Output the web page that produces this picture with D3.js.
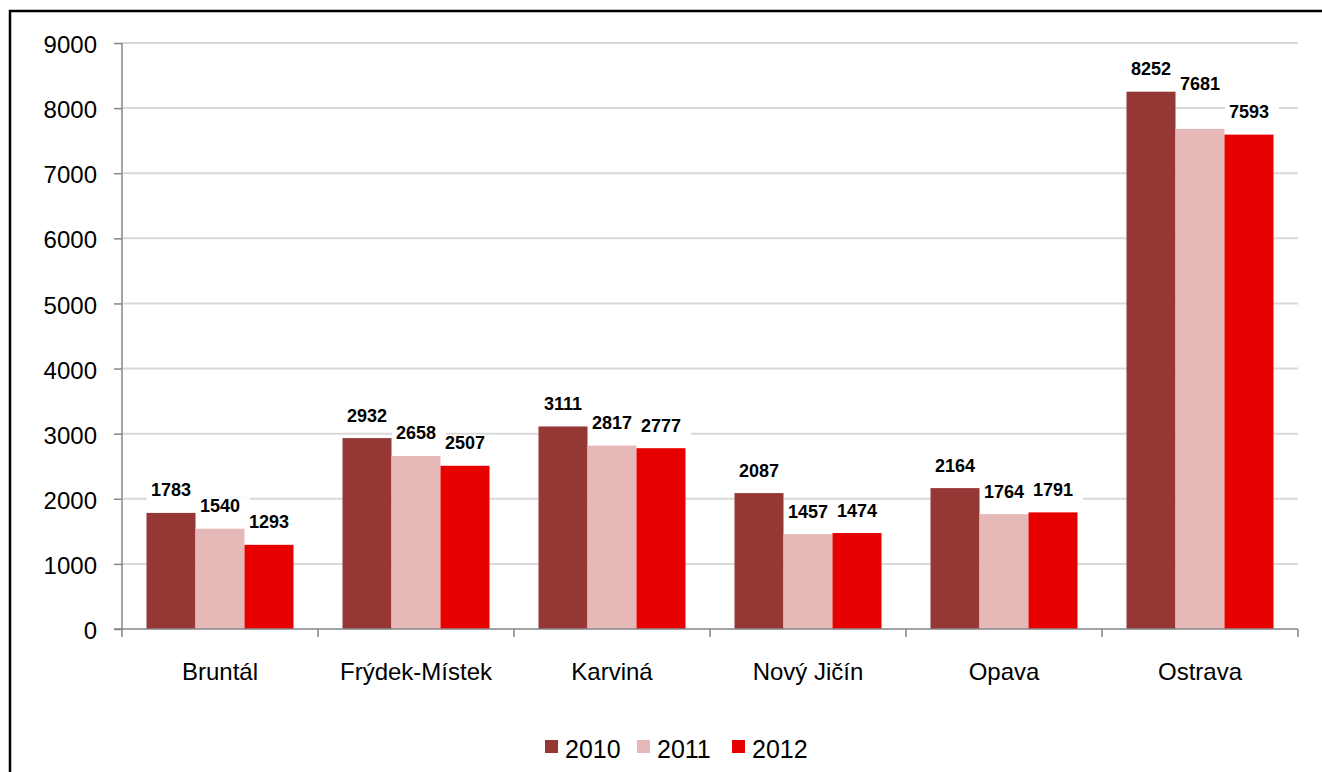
<!DOCTYPE html>
<html><head><meta charset="utf-8">
<script src="https://cdn.jsdelivr.net/npm/d3@7"></script>
<style>html,body{margin:0;padding:0;background:#fff;}svg{display:block;}</style>
</head><body>
<script>
const categories = ["Bruntál","Frýdek-Místek","Karviná","Nový Jičín","Opava","Ostrava"];
const seriesNames = ["2010","2011","2012"];
const values2010 = [1783,2932,3111,2087,2164,8252];
const values2011 = [1540,2658,2817,1457,1764,7681];
const values2012 = [1293,2507,2777,1474,1791,7593];
const yTicks = [0,1000,2000,3000,4000,5000,6000,7000,8000,9000];
const colors = ["#953735","#e6b9b8","#e60000"];
const seriesValues = [values2010, values2011, values2012];
// label placement tweak (Excel moved one label up)
const labelLift = {"Ostrava|2011": 22};

const W = 1322, H = 772;
const svg = d3.select("body").append("svg").attr("width", W).attr("height", H);
svg.append("rect").attr("width", W).attr("height", H).attr("fill", "#fff");
// outer frame
svg.append("rect").attr("x", 10).attr("y", 11).attr("width", W + 20).attr("height", H + 20)
  .attr("fill", "none").attr("stroke", "#000").attr("stroke-width", 2.5);

const pLeft = 122, pRight = 1298, pTop = 43, pBottom = 629;
const x0 = d3.scaleBand().domain(categories).range([pLeft, pRight]).paddingInner(0).paddingOuter(0);
const x1 = d3.scaleBand().domain(seriesNames).range([0, x0.bandwidth()]).paddingInner(0).paddingOuter(0.5);
const y = d3.scaleLinear().domain([0, 9000]).range([pBottom, pTop]);

const font = "'Liberation Sans', Arial, sans-serif";

// gridlines
svg.append("g").selectAll("line").data(yTicks.filter(d => d > 0)).join("line")
  .attr("x1", pLeft).attr("x2", pRight).attr("y1", d => y(d)).attr("y2", d => y(d))
  .attr("stroke", "#d9d9d9").attr("stroke-width", 2);

// bars
const groups = svg.append("g").selectAll("g").data(seriesNames).join("g")
  .attr("fill", (d, i) => colors[i]);
groups.selectAll("rect").data((s, si) => categories.map((c, ci) => ({c, s, v: seriesValues[si][ci]}))).join("rect")
  .attr("x", d => x0(d.c) + x1(d.s)).attr("width", x1.bandwidth())
  .attr("y", d => y(d.v)).attr("height", d => y(0) - y(d.v));

// axes
const yAxis = svg.append("g").attr("transform", `translate(${pLeft},0)`)
  .call(d3.axisLeft(y).tickValues(yTicks).tickSize(8).tickPadding(17).tickFormat(d3.format("d")));
yAxis.select(".domain").attr("stroke", "#868686").attr("stroke-width", 1.5).attr("d", `M0,${pTop}V${pBottom}`);
yAxis.selectAll(".tick line").attr("stroke", "#868686").attr("stroke-width", 1.5);
yAxis.selectAll(".tick text").attr("font-family", font).attr("font-size", 24).attr("fill", "#000").attr("dy", "0.4em");

const xAxis = svg.append("g").attr("transform", `translate(0,${pBottom})`)
  .call(d3.axisBottom(x0).tickSize(0).tickPadding(34));
xAxis.select(".domain").attr("stroke", "#868686").attr("stroke-width", 1.5).attr("d", `M${pLeft - 8},0H${pRight}`);
xAxis.selectAll(".tick text").attr("font-family", font).attr("font-size", 24).attr("fill", "#000").attr("dy", "0.71em");
const boundaries = categories.map(c => x0(c)).concat([pRight]);
xAxis.append("g").selectAll("line").data(boundaries).join("line")
  .attr("x1", d => d).attr("x2", d => d).attr("y1", 0).attr("y2", 8)
  .attr("stroke", "#868686").attr("stroke-width", 1.5);

// data labels with white boxes
const labelLayer = svg.append("g");
seriesNames.forEach((s, si) => {
  categories.forEach((c, ci) => {
    const v = seriesValues[si][ci];
    const cx = x0(c) + x1(s) + x1.bandwidth() / 2;
    const cy = y(v) - 23 - (labelLift[c + "|" + s] || 0);
    const g = labelLayer.append("g");
    const t = g.append("text").attr("x", cx).attr("y", cy).attr("dy", "0.36em")
      .attr("text-anchor", "middle").attr("font-family", font).attr("font-weight", "bold")
      .attr("font-size", 18).attr("fill", "#000").text(v);
    const bb = t.node().getBBox();
    g.insert("rect", "text").attr("x", bb.x - 4).attr("y", cy - 8).attr("width", bb.width + 14).attr("height", 21)
      .attr("fill", "#fff");
  });
});

// legend
const legendX = [545, 637, 732];
const lg = svg.append("g").selectAll("g").data(seriesNames).join("g")
  .attr("transform", (d, i) => `translate(${legendX[i]},740)`);
lg.append("rect").attr("width", 13).attr("height", 13).attr("fill", (d, i) => colors[i]);
lg.append("text").attr("x", 20).attr("y", 8.5).attr("dy", "0.36em")
  .attr("font-family", font).attr("font-size", 25).attr("fill", "#000").text(d => d);
</script>
</body></html>
